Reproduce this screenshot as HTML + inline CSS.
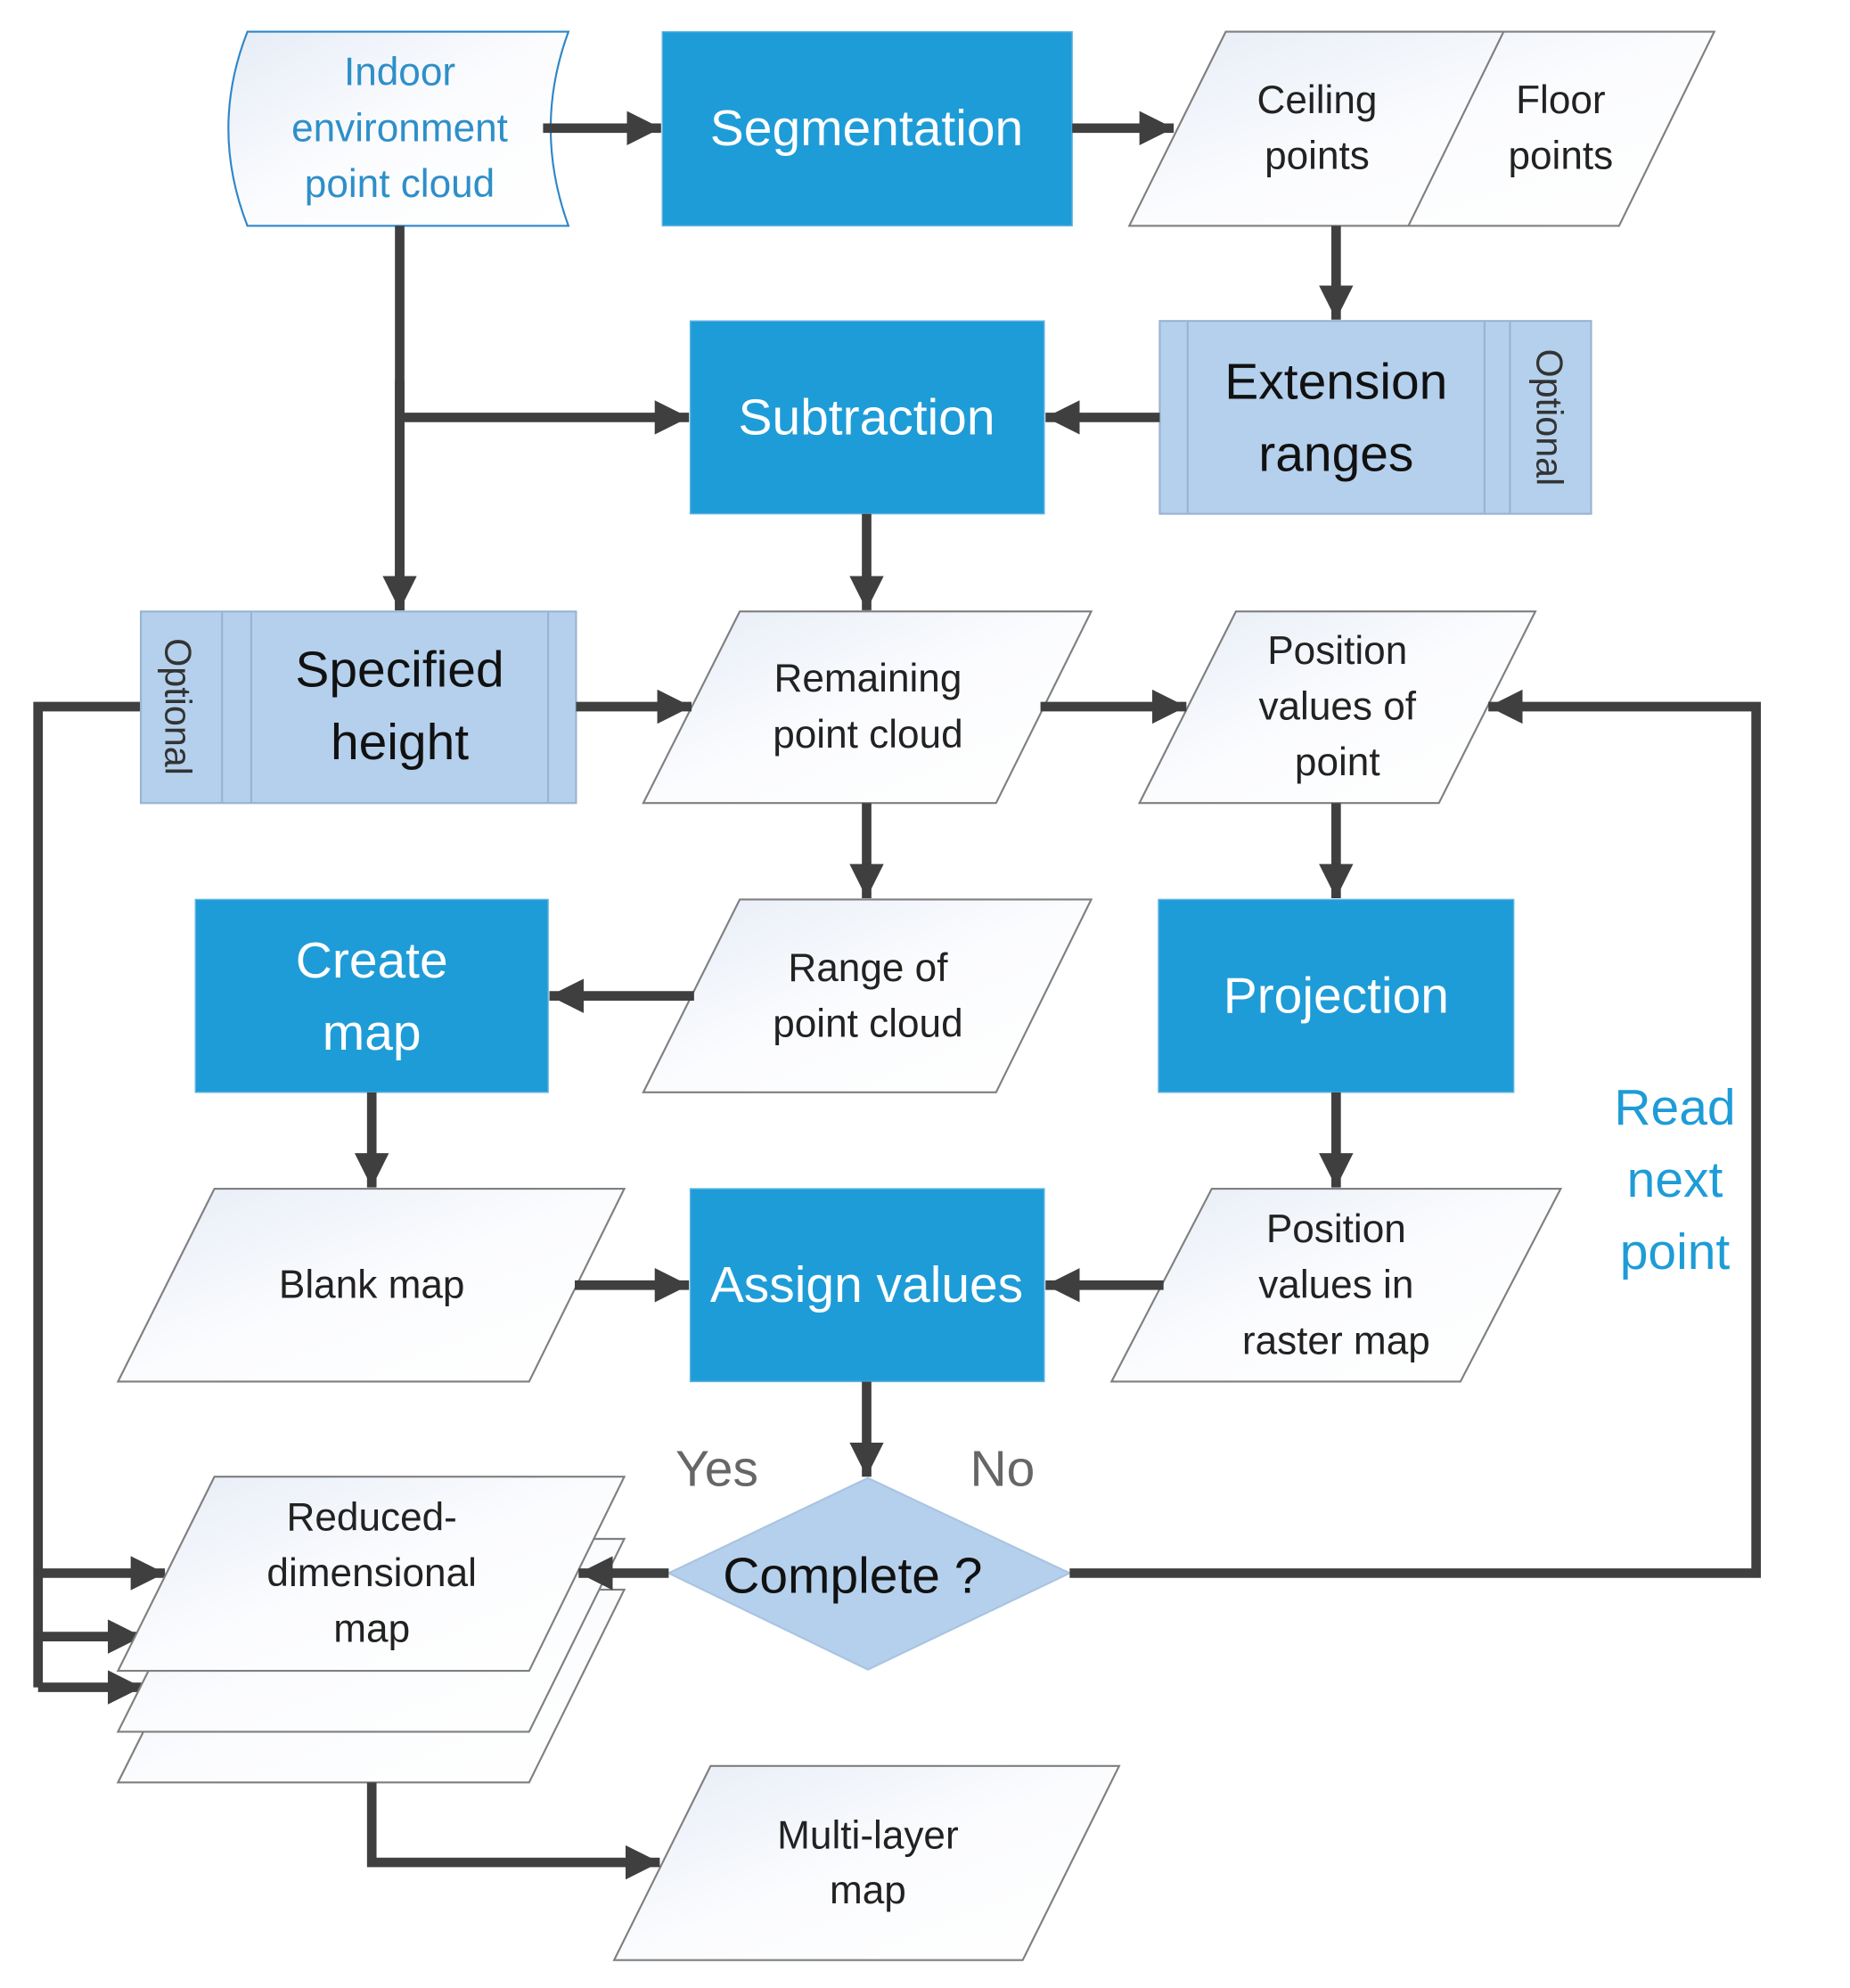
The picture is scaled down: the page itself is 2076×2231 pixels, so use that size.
<!DOCTYPE html>
<html><head><meta charset="utf-8"><style>
html,body{margin:0;padding:0;background:#fff}
svg{display:block}
text{font-family:"Liberation Sans",sans-serif;dominant-baseline:central;text-anchor:middle}
</style></head><body>
<svg width="2076" height="2231" viewBox="0 0 1458 1567" preserveAspectRatio="none">
<defs>
<linearGradient id="g" x1="0" y1="0" x2="1" y2="1">
<stop offset="0" stop-color="#e6ecf6"/><stop offset="0.5" stop-color="#fbfcfe"/><stop offset="1" stop-color="#ffffff"/>
</linearGradient>
<marker id="a" viewBox="0 0 10 10" refX="10" refY="5" markerWidth="3.6" markerHeight="3.6" orient="auto" markerUnits="strokeWidth">
<path d="M0,0 L10,5 L0,10 z" fill="#3f3f3f"/></marker>
</defs>
<g stroke="#3f3f3f" stroke-width="7.5" fill="none">
<!-- left loop -->
<path d="M111,557 H30 V1330"/>
<path d="M30,1240 H130" marker-end="url(#a)"/>
<path d="M30,1290 H112" marker-end="url(#a)"/>
<path d="M30,1330 H112" marker-end="url(#a)"/>
</g>
<g stroke="#7f7f7f" stroke-width="1.5" fill="url(#g)">
<!-- indoor -->
<path d="M195,25 H448 Q420,101 448,178 H195 Q165,101 195,25 z" stroke="#2e86c8"/>
<polygon points="966,25 1351,25 1276,178 890,178"/>
<line x1="1185" y1="25" x2="1110" y2="178"/>
<polygon points="583,482 860,482 785,633 507,633"/>
<polygon points="974,482 1210,482 1134,633 898,633"/>
<polygon points="583,709 860,709 785,861 507,861"/>
<polygon points="169,937 492,937 417,1089 93,1089"/>
<polygon points="955,937 1230,937 1151,1089 876,1089"/>
<polygon points="169,1253 492,1253 417,1405 93,1405"/>
<polygon points="169,1213 492,1213 417,1365 93,1365"/>
<polygon points="169,1164 492,1164 417,1317 93,1317"/>
<polygon points="560,1392 882,1392 806,1545 484,1545"/>
</g>
<g fill="#1e9cd7" stroke="#5fb3e0" stroke-width="1">
<rect x="522" y="25" width="323" height="153"/>
<rect x="544" y="253" width="279" height="152"/>
<rect x="154" y="709" width="278" height="152"/>
<rect x="913" y="709" width="280" height="152"/>
<rect x="544" y="937" width="279" height="152"/>
</g>
<g fill="#b4d0ec" stroke="#98b4d2" stroke-width="1.5">
<rect x="914" y="253" width="340" height="152"/>
<line x1="936" y1="253" x2="936" y2="405"/><line x1="1170" y1="253" x2="1170" y2="405"/><line x1="1190" y1="253" x2="1190" y2="405"/>
<rect x="111" y="482" width="343" height="151"/>
<line x1="175" y1="482" x2="175" y2="633"/><line x1="198" y1="482" x2="198" y2="633"/><line x1="432" y1="482" x2="432" y2="633"/>
<polygon points="684,1165 843,1240 684,1316 527,1240" stroke="#a9c4e2"/>
</g>
<g stroke="#3f3f3f" stroke-width="7.5" fill="none">
<path d="M428,101 H521" marker-end="url(#a)"/>
<path d="M845,101 H925" marker-end="url(#a)"/>
<path d="M1053,178 V252" marker-end="url(#a)"/>
<path d="M914,329 H824" marker-end="url(#a)"/>
<path d="M315,178 V481"/>
<path d="M315,329 H543" marker-end="url(#a)"/>
<path d="M315,300 V481" marker-end="url(#a)"/>
<path d="M683,405 V481" marker-end="url(#a)"/>
<path d="M454,557 H545" marker-end="url(#a)"/>
<path d="M820,557 H935" marker-end="url(#a)"/>
<path d="M843,1240 H1384 V557 H1173" marker-end="url(#a)"/>
<path d="M683,633 V708" marker-end="url(#a)"/>
<path d="M1053,633 V708" marker-end="url(#a)"/>
<path d="M547,785 H433" marker-end="url(#a)"/>
<path d="M293,861 V936" marker-end="url(#a)"/>
<path d="M1053,861 V936" marker-end="url(#a)"/>
<path d="M453,1013 H543" marker-end="url(#a)"/>
<path d="M917,1013 H824" marker-end="url(#a)"/>
<path d="M683,1089 V1164" marker-end="url(#a)"/>
<path d="M527,1240 H456" marker-end="url(#a)"/>
<path d="M293,1405 V1468 H520" marker-end="url(#a)"/>
</g>
<g font-size="31" fill="#2e8fc8">
<text x="315" y="57">Indoor</text><text x="315" y="101">environment</text><text x="315" y="145">point cloud</text>
</g>
<g font-size="40" fill="#fff">
<text x="683" y="101">Segmentation</text>
<text x="683" y="329">Subtraction</text>
<text x="293" y="757">Create</text><text x="293" y="814">map</text>
<text x="1053" y="785">Projection</text>
<text x="683" y="1013">Assign values</text>
</g>
<g font-size="40" fill="#111">
<text x="1053" y="301">Extension</text><text x="1053" y="358">ranges</text>
<text x="315" y="528">Specified</text><text x="315" y="585">height</text>
<text x="672" y="1242">Complete ?</text>
</g>
<g font-size="29" fill="#333">
<text transform="translate(1221,329) rotate(90)">Optional</text>
<text transform="translate(140,557) rotate(90)">Optional</text>
</g>
<g font-size="31" fill="#222">
<text x="1038" y="79">Ceiling</text><text x="1038" y="123">points</text>
<text x="1230" y="79">Floor</text><text x="1230" y="123">points</text>
<text x="684" y="535">Remaining</text><text x="684" y="579">point cloud</text>
<text x="1054" y="513">Position</text><text x="1054" y="557">values of</text><text x="1054" y="601">point</text>
<text x="684" y="763">Range of</text><text x="684" y="807">point cloud</text>
<text x="293" y="1013">Blank map</text>
<text x="1053" y="969">Position</text><text x="1053" y="1013">values in</text><text x="1053" y="1057">raster map</text>
<text x="293" y="1196">Reduced-</text><text x="293" y="1240">dimensional</text><text x="293" y="1284">map</text>
<text x="684" y="1447">Multi-layer</text><text x="684" y="1490">map</text>
</g>
<g font-size="40" fill="#666">
<text x="565" y="1158">Yes</text><text x="790" y="1158">No</text>
</g>
<g font-size="40" fill="#1e9cd7">
<text x="1320" y="873">Read</text><text x="1320" y="930">next</text><text x="1320" y="987">point</text>
</g>
</svg>
</body></html>
